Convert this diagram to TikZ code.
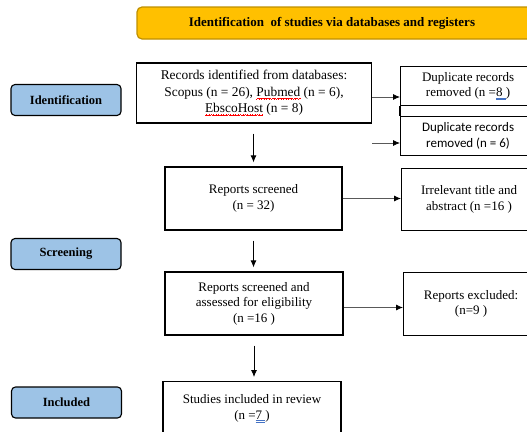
\documentclass[tikz,border=0pt]{standalone}
\usepackage{fontspec}
\setmainfont{Liberation Serif}
\newfontfamily\calfont{Carlito}
\usetikzlibrary{arrows.meta,positioning,calc}
\definecolor{titlefill}{HTML}{FFC000}
\definecolor{titledraw}{HTML}{BF9000}
\definecolor{labelfill}{HTML}{9DC3E6}
\definecolor{wordblue}{HTML}{4472C4}
\definecolor{arrowgray}{HTML}{595959}
\newcommand\wavebit{\hbox{\textcolor{red}{\rule[-3.4pt]{0.6pt}{0.55pt}\rule[-2.9pt]{0.6pt}{0.55pt}\rule[-2.4pt]{0.6pt}{0.55pt}\rule[-2.9pt]{0.6pt}{0.55pt}}}}
\newcommand\redwave[1]{\setbox0\hbox{#1}\rlap{\hbox to\wd0{\xleaders\wavebit\hfil}}\box0\relax}
\newcommand\bluedu[1]{\setbox0\hbox{#1}\rlap{\textcolor{wordblue}{\lower3.2pt\hbox{\vbox{\hrule width\wd0 height .5pt\kern1.1pt\hrule width\wd0 height .5pt}}}}\box0\relax}
\tikzset{
  mainbox/.style={draw=black, line width=1.3pt, fill=white, align=center,
    font=\fontsize{13}{15.5}\selectfont, inner sep=2pt},
  sidebox/.style={draw=black, line width=1.1pt, fill=white, align=center,
    font=\fontsize{13}{15.5}\selectfont, inner sep=2pt},
  phaselabel/.style={draw=black, line width=1.1pt, fill=labelfill,
    rounded corners=4pt, minimum width=110pt, minimum height=31pt,
    font=\fontsize{12.5}{14}\selectfont\bfseries},
  arr/.style={draw=arrowgray, line width=0.8pt,
    -{Latex[length=7pt,width=6pt,color=black]}},
  darr/.style={draw=black, line width=0.8pt,
    -{Latex[length=7pt,width=6pt,color=black]}},
}
\begin{document}
\begin{tikzpicture}[x=1pt,y=-1pt]
\useasboundingbox (0,0) rectangle (527,431);
% title
\draw[draw=titledraw, fill=titlefill, line width=1.2pt, rounded corners=5pt]
  (137,7) rectangle (545,39);
\node[font=\fontsize{13}{15}\selectfont\bfseries] (title) at (332,23)
  {Identification\ \ of studies via databases and registers};
% phase labels
\node[phaselabel] (lid) at (66,100) {Identification};
\node[phaselabel] (lscr) at (66,254) {Screening};
\node[phaselabel] (linc) at (66.5,402.5) {Included};
% main column
\node[mainbox, minimum width=235pt, minimum height=60pt,
  font=\fontsize{13.4}{16.3}\selectfont] (records) at (254,93)
  {Records identified from databases:\\
   Scopus (n = 26), \redwave{Pubmed} (n = 6),\\
   \redwave{EbscoHost} (n = 8)};
\node[mainbox, minimum width=177pt, minimum height=63pt] (screened) at (253.5,198.5)
  {Reports screened\\ (n = 32)};
\node[mainbox, minimum width=178pt, minimum height=63pt] (assessed) at (254,303.5)
  {Reports screened and\\ assessed for eligibility\\ (n =16 )};
\node[mainbox, minimum width=178pt, minimum height=54pt, anchor=north] (studies) at (252,381)
  {Studies included in review\\ (n =\bluedu{7\ })};
% side column
\node[sidebox, minimum width=135pt, minimum height=39pt, anchor=north west] (dup1) at (400,66)
  {Duplicate records\\ removed (n =\bluedu{8\ })};
\node[sidebox, minimum width=135pt, minimum height=39pt, anchor=north west,
  font=\calfont\fontsize{13}{16}\selectfont] (dup2) at (400,116)
  {Duplicate records\\ removed (n = 6)};
\draw[line width=1.1pt] (dup1.south west) -- (dup2.north west);
\node[sidebox, minimum width=135pt, minimum height=62pt, anchor=north west] (irr) at (401,168)
  {Irrelevant title and\\ abstract (n =16 )};
\node[sidebox, minimum width=135pt, minimum height=63pt, anchor=north west] (excl) at (403,272)
  {Reports excluded:\\ (n=9 )};
% connectors
\draw[arr] ([yshift=-4pt]records.east) -- ([yshift=-4pt]records.east -| dup1.west);
\coordinate (d2s) at (372,143);
\draw[arr] (d2s) -- (d2s -| dup2.west);
\draw[arr] (screened.east) -- (screened.east -| irr.west);
\draw[arr] ([yshift=-4pt]assessed.east) -- ([yshift=-4pt]assessed.east -| excl.west);
\draw[darr, shorten <=10pt, shorten >=4pt] (records.south -| screened.north) -- (screened.north);
\draw[darr, shorten <=10pt, shorten >=4pt] (screened.south) -- (screened.south |- assessed.north);
\draw[darr, shorten <=10pt, shorten >=4pt] (assessed.south) -- (assessed.south |- studies.north);
\end{tikzpicture}
\end{document}
